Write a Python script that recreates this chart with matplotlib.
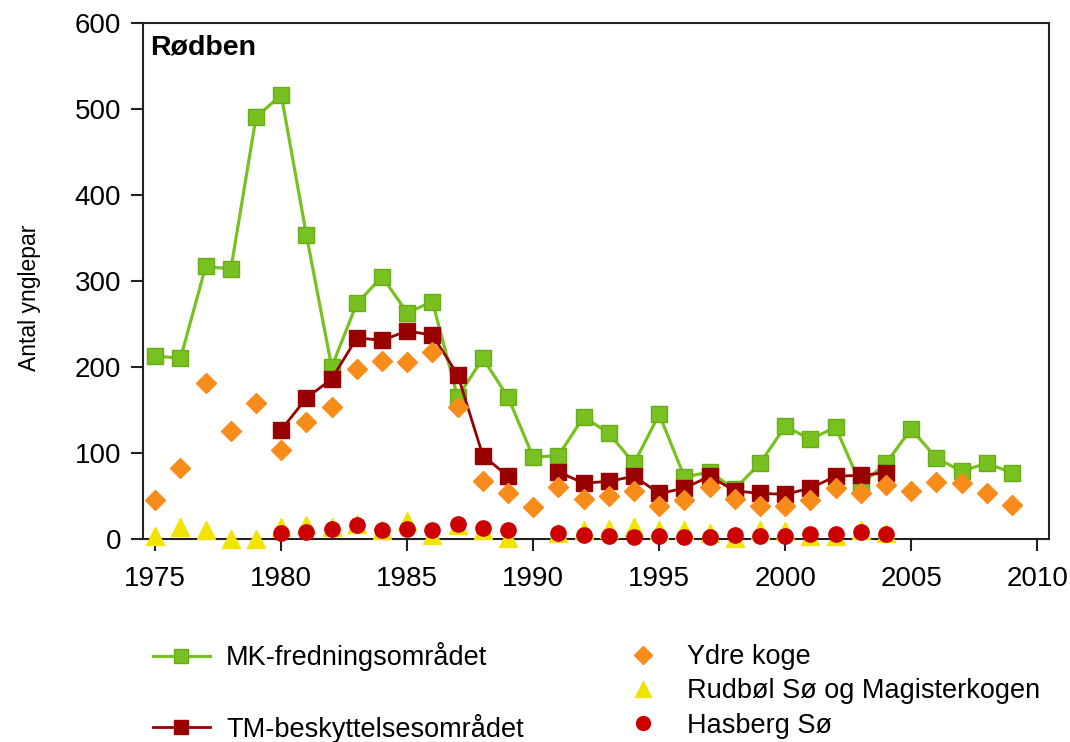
import numpy as np
import matplotlib
matplotlib.use("Agg")
import matplotlib.pyplot as plt
from matplotlib.lines import Line2D

plt.rcParams["font.family"] = ["Liberation Sans", "DejaVu Sans"]

nan = np.nan
years = list(range(1975, 2010))

mk = [213, 210, 317, 314, 491, 516, 353, 200, 274, 305, 263, 276, 165, 210,
      165, 95, 97, 142, 123, 88, 145, 72, 78, 58, 88, 131, 116, 130, 63, 88,
      128, 94, 79, 88, 77]
tm = [nan, nan, nan, nan, nan, 127, 164, 186, 234, 231, 242, 237, 191, 97,
      73, nan, 78, 65, 67, 73, 53, 59, 73, 56, 53, 52, 59, 73, 74, 77,
      nan, nan, nan, nan, nan]
ydre = [45, 82, 181, 126, 158, 104, 136, 153, 198, 207, 206, 217, 153, 68,
        53, 37, 61, 47, 50, 56, 38, 45, 61, 46, 38, 38, 45, 59, 54, 63,
        56, 66, 65, 54, 39]
rudbol = [3, 14, 10, 0, 0, 14, 16, 14, 17, 10, 21, 5, 16, 11, 1, nan, 7,
          10, 12, 14, 10, 10, 7, 1, 10, 9, 3, 3, 10, 7,
          nan, nan, nan, nan, nan]
hasberg = [nan, nan, nan, nan, nan, 7, 8, 12, 16, 10, 12, 10, 18, 13, 11,
           nan, 7, 5, 3, 2, 3, 2, 2, 5, 3, 3, 6, 6, 8, 6,
           nan, nan, nan, nan, nan]

labels = ["MK-fredningsområdet", "TM-beskyttelsesområdet", "Ydre koge",
          "Rudbøl Sø og Magisterkogen", "Hasberg Sø"]

C_MK = "#79c121"; C_MKE = "#68ad18"
C_TM = "#990000"
C_YD = "#f78c1b"
C_RU = "#f3e300"
C_HA = "#cc0000"

fig = plt.figure(figsize=(10.7, 7.42), dpi=100)
ax = fig.add_axes([142.7/1070, 1-539/742, (1049-142.7)/1070, (539-23)/742])

l_mk, = ax.plot(years, mk, color=C_MK, lw=2.3, marker="s", ms=12,
                mfc=C_MK, mec=C_MKE, mew=1, zorder=2, clip_on=False)
l_tm, = ax.plot(years, tm, color=C_TM, lw=2.0, marker="s", ms=12,
                mfc=C_TM, mec=C_TM, zorder=3, clip_on=False)
l_yd, = ax.plot(years, ydre, ls="none", marker="D", ms=10.5, mfc=C_YD,
                mec=C_YD, zorder=4, clip_on=False)
l_ru, = ax.plot(years, rudbol, ls="none", marker="^", ms=13, mfc=C_RU,
                mec=C_RU, zorder=5, clip_on=False)
l_ha, = ax.plot(years, hasberg, ls="none", marker="o", ms=11, mfc=C_HA,
                mec=C_HA, zorder=6, clip_on=False)

ax.set_xlim(1974.5, 2010.47)
ax.set_ylim(0, 600)
ax.set_xticks(range(1975, 2011, 5))
ax.set_yticks(range(0, 601, 100))
for s in ax.spines.values():
    s.set_linewidth(1.5)
    s.set_color("#222222")
ax.tick_params(axis="both", direction="out", length=8.5, width=1.5,
               color="#222222", labelsize=20)
ax.tick_params(axis="y", pad=7)
ax.tick_params(axis="x", pad=11)
ax.set_ylabel("Antal ynglepar", fontsize=16.5)
ax.yaxis.set_label_coords(-0.112, 0.467)

ax.text(0.008, 0.953, "Rødben", transform=ax.transAxes, fontsize=20.5,
        fontweight="bold", ha="left", va="center")

blank = Line2D([], [], ls="none")
leg1 = fig.legend([l_mk, blank, l_tm], [labels[0], "", labels[1]],
                  loc="upper left", bbox_to_anchor=(153/1070, 1-642/742),
                  frameon=False, fontsize=19.5, borderpad=0, borderaxespad=0,
                  handlelength=2.1, handletextpad=0.6, labelspacing=0.31)
for h in leg1.legend_handles:
    if hasattr(h, "set_markersize"):
        h.set_markersize(10)
leg2 = fig.legend([l_yd, l_ru, l_ha], labels[2:],
                  loc="upper left", bbox_to_anchor=(630/1070, 1-644/742),
                  frameon=False, fontsize=19.5, borderpad=0, borderaxespad=0,
                  handlelength=0.95, handletextpad=1.15, labelspacing=0.31)
for h, ms in zip(leg2.legend_handles, [9.5, 11, 10]):
    h.set_markersize(ms)

fig.savefig("out.png", dpi=100)
